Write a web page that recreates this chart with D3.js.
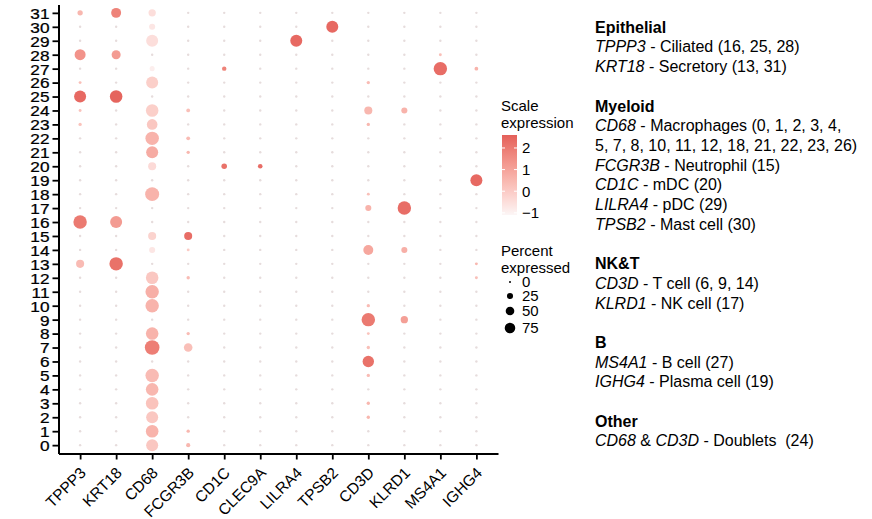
<!DOCTYPE html>
<html><head><meta charset="utf-8">
<script src="https://cdn.jsdelivr.net/npm/d3@7"></script>
<style>
body{margin:0;background:#fff}
text{font-family:"Liberation Sans",Arial,Helvetica,sans-serif;fill:#000}
</style>
</head><body>
<svg id="c" width="872" height="519"></svg>
<script>
// ---------------- DATA ----------------
const genes = ["TPPP3","KRT18","CD68","FCGR3B","CD1C","CLEC9A","LILRA4","TPSB2","CD3D","KLRD1","MS4A1","IGHG4"];
const clusters = d3.range(0, 32); // 0..31

// percent expressed, index = cluster 0..31
const pct_TPPP3  = [2,2,2,2,2,2,2,2,2,2,2,2,2,23,2,2,64,2,2,2,2,2,2,4,3,51,3,2,43,2,2,10];
const pct_KRT18  = [2,2,2,2,2,2,2,2,2,2,2,2,2,64,2,2,51,2,2,2,2,2,2,2,2,56,2,2,29,2,2,35];
const pct_CD68   = [51,56,51,56,56,64,1,76,56,1,64,64,56,1,13,23,1,2,69,1,23,51,64,40,56,1,51,9,1,51,13,19];
const pct_FCGR3B = [6,4,2,2,2,2,2,26,4,2,2,2,4,2,3,23,2,2,2,2,2,4,5,2,5,2,2,2,2,2,2,2];
const pct_CD1C   = [2,2,2,2,2,2,2,2,2,2,2,2,2,2,2,2,2,2,2,2,11,2,2,2,2,2,2,7,2,2,2,2];
const pct_CLEC9A = [2,2,2,2,2,2,2,2,2,2,2,2,2,2,2,2,2,2,2,2,7.5,2,2,2,2,2,2,2,2,2,2,2];
const pct_LILRA4 = [2,2,2,2,2,2,2,2,2,2,2,2,2,2,2,2,2,2,2,2,2,2,2,2,2,2,2,2,2,51,2,2];
const pct_TPSB2  = [2,2,2,2,2,2,2,2,2,2,2,2,2,2,2,2,2,2,2,2,2,2,2,2,2,2,2,2,2,2,51,2];
const pct_CD3D   = [2,2,4,4,2,4,46,4,3,64,4,2,2,2,35,2,2,13,3,2,2,2,2,4,23,2,4,2,2,2,2,2];
const pct_KLRD1  = [2,2,2,2,2,2,2,2,2,19,2,2,2,2,13,2,2,64,2,2,2,2,2,2,13,2,2,2,2,2,2,2];
const pct_MS4A1  = [2,2,2,2,2,2,2,2,2,2,2,2,2,2,2,2,2,2,2,2,2,2,2,2,2,2,2,64,3,2,2,2];
const pct_IGHG4  = [2,2,2,2,2,2,2,2,2,2,2,2,3,3,2,2,2,2,2,51,2,2,2,2,2,2,2,5,2,2,2,2];

// scaled average expression, index = cluster 0..31
const exp_TPPP3  = [-0.3,-0.3,-0.3,-0.3,-0.3,-0.3,-0.3,-0.3,-0.3,-0.3,-0.3,-0.3,-0.3,0.4,-0.3,-0.3,2.0,-0.3,-0.3,-0.3,-0.3,-0.3,-0.3,0.2,0.2,2.4,0.3,-0.3,1.4,-0.3,-0.3,0.5];
const exp_KRT18  = [-0.3,-0.3,-0.3,-0.3,-0.3,-0.3,-0.3,-0.3,-0.3,-0.3,-0.3,-0.3,-0.3,2.2,-0.3,-0.3,1.2,-0.3,-0.3,-0.3,-0.3,-0.3,-0.3,-0.3,-0.3,2.5,-0.3,-0.3,1.2,-0.3,-0.3,1.8];
const exp_CD68   = [0.1,0.6,0.1,0.2,0.5,0.4,-1,1.9,0.6,-1,0.6,0.7,0.1,-1,-0.7,-0.2,-1,-0.8,0.6,-1,-0.4,0.8,0.6,0.1,-0.1,-1,-0.1,-0.9,-1,-0.5,-0.7,-0.5];
const exp_FCGR3B = [0.5,0.5,-0.3,-0.3,-0.3,-0.3,-0.3,0.3,0.4,-0.3,-0.3,-0.3,0.4,-0.3,0.0,2.3,-0.3,-0.3,-0.3,-0.3,-0.3,0.5,0.4,-0.3,0.3,-0.3,-0.3,-0.3,-0.3,-0.3,-0.3,-0.3];
const exp_CD1C   = [-0.3,-0.3,-0.3,-0.3,-0.3,-0.3,-0.3,-0.3,-0.3,-0.3,-0.3,-0.3,-0.3,-0.3,-0.3,-0.3,-0.3,-0.3,-0.3,-0.3,2.2,-0.3,-0.3,-0.3,-0.3,-0.3,-0.3,1.8,-0.3,-0.3,-0.3,-0.3];
const exp_CLEC9A = [-0.3,-0.3,-0.3,-0.3,-0.3,-0.3,-0.3,-0.3,-0.3,-0.3,-0.3,-0.3,-0.3,-0.3,-0.3,-0.3,-0.3,-0.3,-0.3,-0.3,2.3,-0.3,-0.3,-0.3,-0.3,-0.3,-0.3,-0.3,-0.3,-0.3,-0.3,-0.3];
const exp_LILRA4 = [-0.3,-0.3,-0.3,-0.3,-0.3,-0.3,-0.3,-0.3,-0.3,-0.3,-0.3,-0.3,-0.3,-0.3,-0.3,-0.3,-0.3,-0.3,-0.3,-0.3,-0.3,-0.3,-0.3,-0.3,-0.3,-0.3,-0.3,-0.3,-0.3,2.4,-0.3,-0.3];
const exp_TPSB2  = [-0.3,-0.3,-0.3,-0.3,-0.3,-0.3,-0.3,-0.3,-0.3,-0.3,-0.3,-0.3,-0.3,-0.3,-0.3,-0.3,-0.3,-0.3,-0.3,-0.3,-0.3,-0.3,-0.3,-0.3,-0.3,-0.3,-0.3,-0.3,-0.3,-0.3,2.4,-0.3];
const exp_CD3D   = [-0.3,-0.3,0.5,0.5,-0.3,0.4,2.2,0.3,0.2,2.0,0.4,-0.3,-0.3,-0.3,0.9,-0.3,-0.3,0.6,0.3,-0.3,-0.3,-0.3,-0.3,0.5,0.5,-0.3,0.4,-0.3,-0.3,-0.3,-0.3,-0.3];
const exp_KLRD1  = [-0.3,-0.3,-0.3,-0.3,-0.3,-0.3,-0.3,-0.3,-0.3,1.1,-0.3,-0.3,-0.3,-0.3,0.7,-0.3,-0.3,2.3,-0.3,-0.3,-0.3,-0.3,-0.3,-0.3,0.6,-0.3,-0.3,-0.3,-0.3,-0.3,-0.3,-0.3];
const exp_MS4A1  = [-0.3,-0.3,-0.3,-0.3,-0.3,-0.3,-0.3,-0.3,-0.3,-0.3,-0.3,-0.3,-0.3,-0.3,-0.3,-0.3,-0.3,-0.3,-0.3,-0.3,-0.3,-0.3,-0.3,-0.3,-0.3,-0.3,-0.3,2.3,0.3,-0.3,-0.3,-0.3];
const exp_IGHG4  = [-0.3,-0.3,-0.3,-0.3,-0.3,-0.3,-0.3,-0.3,-0.3,-0.3,-0.3,-0.3,0.3,0.5,-0.3,-0.3,-0.3,-0.3,-0.3,2.4,-0.3,-0.3,-0.3,-0.3,-0.3,-0.3,-0.3,0.6,-0.3,-0.3,-0.3,-0.3];

const colorTicks = [-1, 0, 1, 2];
const colorTickLabels = ["\u22121", "0", "1", "2"];
const sizeTicks = [0, 25, 50, 75];

// annotation text lines; segment: [style, text]  (b = bold, i = italic, n = normal)
const annotLines = [
  [["b","Epithelial"]],
  [["i","TPPP3"],["n"," - Ciliated (16, 25, 28)"]],
  [["i","KRT18"],["n"," - Secretory (13, 31)"]],
  [],
  [["b","Myeloid"]],
  [["i","CD68"],["n"," - Macrophages (0, 1, 2, 3, 4,"]],
  [["n","5, 7, 8, 10, 11, 12, 18, 21, 22, 23, 26)"]],
  [["i","FCGR3B"],["n"," - Neutrophil (15)"]],
  [["i","CD1C"],["n"," - mDC (20)"]],
  [["i","LILRA4"],["n"," - pDC (29)"]],
  [["i","TPSB2"],["n"," - Mast cell (30)"]],
  [],
  [["b","NK&T"]],
  [["i","CD3D"],["n"," - T cell (6, 9, 14)"]],
  [["i","KLRD1"],["n"," - NK cell (17)"]],
  [],
  [["b","B"]],
  [["i","MS4A1"],["n"," - B cell (27)"]],
  [["i","IGHG4"],["n"," - Plasma cell (19)"]],
  [],
  [["b","Other"]],
  [["i","CD68"],["n"," & "],["i","CD3D"],["n"," - Doublets  (24)"]]
];

// ---------------- BUILD ----------------
const pctArrays = [pct_TPPP3,pct_KRT18,pct_CD68,pct_FCGR3B,pct_CD1C,pct_CLEC9A,pct_LILRA4,pct_TPSB2,pct_CD3D,pct_KLRD1,pct_MS4A1,pct_IGHG4];
const expArrays = [exp_TPPP3,exp_KRT18,exp_CD68,exp_FCGR3B,exp_CD1C,exp_CLEC9A,exp_LILRA4,exp_TPSB2,exp_CD3D,exp_KLRD1,exp_MS4A1,exp_IGHG4];
const cells = [];
genes.forEach((g, gi) => clusters.forEach(c => cells.push({gene:g, cluster:c, pct:pctArrays[gi][c], exp:expArrays[gi][c]})));

const svg = d3.select("#c");
const x = d3.scalePoint().domain(genes).range([58.5, 498]).padding(0.6);
const y = d3.scalePoint().domain(clusters).range([453.5, 4.5]).padding(0.6);
const cLo = -1.1, cHi = 2.6;
const color = d3.scaleLinear().domain([cLo, cHi]).range(["#fcf6f6", "#e4605a"]).interpolate(d3.interpolateLab).clamp(true);
const rScale = d3.scaleSqrt().domain([0, 100]).range([0, 8.4]);
const rLegend = d3.scaleSqrt().domain([0, 100]).range([0, 6.1]);

// dots
svg.append("g").selectAll("circle").data(cells).join("circle")
  .attr("cx", d => x(d.gene)).attr("cy", d => y(d.cluster))
  .attr("r", d => Math.max(1.2, rScale(d.pct)))
  .attr("fill", d => d.pct <= 2.5 && d.exp < 0 ? "#e6dcdc" : color(d.exp));

// axes
const yAxis = svg.append("g").attr("transform", "translate(58.5,0)")
  .call(d3.axisLeft(y).tickSize(6).tickSizeOuter(0).tickPadding(2));
const xAxis = svg.append("g").attr("transform", "translate(0,453.5)")
  .call(d3.axisBottom(x).tickSize(6).tickSizeOuter(0).tickPadding(2));
[yAxis, xAxis].forEach(a => {
  a.select(".domain").attr("stroke", "#000").attr("stroke-width", 2);
  a.selectAll(".tick line").attr("stroke", "#000").attr("stroke-width", 1.8);
});
yAxis.selectAll(".tick text").attr("font-size", 15).attr("fill", "#000")
  .attr("font-family", "Liberation Sans, Arial, sans-serif")
  .attr("stroke", "#000").attr("stroke-width", 0.25)
  .attr("x", -9 / 1.15).attr("transform", "scale(1.15,1)").attr("dy", "0.36em");
xAxis.selectAll(".tick text").attr("font-size", 15.5).attr("fill", "#000")
  .attr("font-family", "Liberation Sans, Arial, sans-serif")
  .attr("text-anchor", "end").attr("dy", "0.3em").attr("x", 0).attr("y", 0)
  .attr("transform", "translate(3,17) rotate(-45)");

// ---------------- LEGENDS ----------------
const lg = svg.append("g");
lg.append("text").attr("x", 501).attr("y", 111).attr("font-size", 15).text("Scale");
lg.append("text").attr("x", 501).attr("y", 128).attr("font-size", 15).text("expression");
const barX = 502, barW = 15, barTop = 135, barBot = 215;
const cy = d3.scaleLinear().domain([cLo, cHi]).range([barBot, barTop]);
const defs = svg.append("defs");
const grad = defs.append("linearGradient").attr("id", "g1").attr("x1", 0).attr("y1", 1).attr("x2", 0).attr("y2", 0);
d3.range(0, 1.0001, 0.1).forEach(t => grad.append("stop").attr("offset", t).attr("stop-color", color(cLo + t * (cHi - cLo))));
lg.append("rect").attr("x", barX).attr("y", barTop).attr("width", barW).attr("height", barBot - barTop).attr("fill", "url(#g1)");
colorTicks.forEach((v, i) => {
  const yy = cy(v);
  lg.append("line").attr("x1", barX).attr("x2", barX + 3).attr("y1", yy).attr("y2", yy).attr("stroke", "#fff").attr("stroke-width", 1);
  lg.append("line").attr("x1", barX + barW - 3).attr("x2", barX + barW).attr("y1", yy).attr("y2", yy).attr("stroke", "#fff").attr("stroke-width", 1);
  lg.append("text").attr("x", 522).attr("y", yy).attr("dy", "0.36em").attr("font-size", 15).text(colorTickLabels[i]);
});

lg.append("text").attr("x", 501).attr("y", 256).attr("font-size", 15).text("Percent");
lg.append("text").attr("x", 501).attr("y", 273).attr("font-size", 15).text("expressed");
const sizeY = [282, 296, 311, 328];
sizeTicks.forEach((v, i) => {
  lg.append("circle").attr("cx", 510).attr("cy", sizeY[i]).attr("r", Math.max(1.0, rLegend(v))).attr("fill", "#000");
  lg.append("text").attr("x", 522).attr("y", sizeY[i]).attr("dy", "0.36em").attr("font-size", 15).text(v);
});

// ---------------- ANNOTATION ----------------
const ag = svg.append("g");
annotLines.forEach((segs, i) => {
  if (!segs.length) return;
  const t = ag.append("text").attr("x", 595).attr("y", 27 + i * 19.7).attr("dy", "0.36em")
    .attr("font-size", 16).attr("fill", "#111").style("white-space", "pre");
  segs.forEach(s => {
    t.append("tspan").text(s[1]).style("white-space", "pre")
      .attr("font-style", s[0] === "i" ? "italic" : "normal")
      .attr("font-weight", s[0] === "b" ? "bold" : "normal");
  });
});
</script>
</body></html>
